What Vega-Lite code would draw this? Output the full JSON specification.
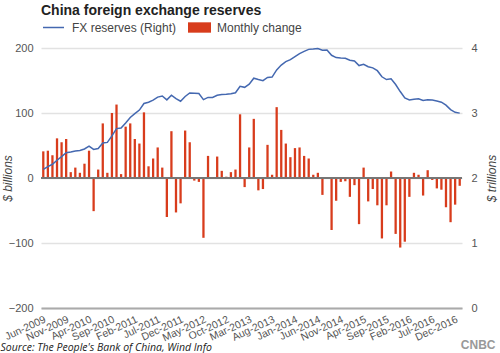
{
"$schema": "https://vega.github.io/schema/vega-lite/v6.json",
"width": 421, "height": 260,
"autosize": {"type": "none"},
"padding": {"left": 41, "top": 48, "right": 38, "bottom": 45},
"background": "white",
"title": {"text": "China foreign exchange reserves", "anchor": "start", "frame": "group", "dy": 6, "fontSize": 14, "font": "Liberation Sans", "fontWeight": "bold", "color": "#222"},
"config": {"view": {"stroke": null}, "font": "Liberation Sans"},
"data": {"values": [
{"month":"Jun-2009","change":41,"reserves":2.132},
{"month":"Jul-2009","change":42,"reserves":2.175},
{"month":"Aug-2009","change":35,"reserves":2.211},
{"month":"Sep-2009","change":61,"reserves":2.273},
{"month":"Oct-2009","change":55,"reserves":2.328},
{"month":"Nov-2009","change":60,"reserves":2.388},
{"month":"Dec-2009","change":9,"reserves":2.399},
{"month":"Jan-2010","change":16,"reserves":2.415},
{"month":"Feb-2010","change":8,"reserves":2.424},
{"month":"Mar-2010","change":22,"reserves":2.447},
{"month":"Apr-2010","change":42,"reserves":2.490},
{"month":"May-2010","change":-51,"reserves":2.440},
{"month":"Jun-2010","change":13,"reserves":2.454},
{"month":"Jul-2010","change":84,"reserves":2.538},
{"month":"Aug-2010","change":8,"reserves":2.548},
{"month":"Sep-2010","change":100,"reserves":2.648},
{"month":"Oct-2010","change":113,"reserves":2.760},
{"month":"Nov-2010","change":6,"reserves":2.768},
{"month":"Dec-2010","change":79,"reserves":2.847},
{"month":"Jan-2011","change":84,"reserves":2.932},
{"month":"Feb-2011","change":60,"reserves":2.991},
{"month":"Mar-2011","change":53,"reserves":3.045},
{"month":"Apr-2011","change":101,"reserves":3.146},
{"month":"May-2011","change":18,"reserves":3.166},
{"month":"Jun-2011","change":30,"reserves":3.198},
{"month":"Jul-2011","change":47,"reserves":3.245},
{"month":"Aug-2011","change":16,"reserves":3.262},
{"month":"Sep-2011","change":-60,"reserves":3.202},
{"month":"Oct-2011","change":72,"reserves":3.274},
{"month":"Nov-2011","change":-53,"reserves":3.221},
{"month":"Dec-2011","change":-39,"reserves":3.181},
{"month":"Jan-2012","change":73,"reserves":3.254},
{"month":"Feb-2012","change":55,"reserves":3.309},
{"month":"Mar-2012","change":-4,"reserves":3.305},
{"month":"Apr-2012","change":-6,"reserves":3.299},
{"month":"May-2012","change":-92,"reserves":3.206},
{"month":"Jun-2012","change":34,"reserves":3.240},
{"month":"Jul-2012","change":0,"reserves":3.240},
{"month":"Aug-2012","change":33,"reserves":3.273},
{"month":"Sep-2012","change":11,"reserves":3.285},
{"month":"Oct-2012","change":2,"reserves":3.287},
{"month":"Nov-2012","change":9,"reserves":3.297},
{"month":"Dec-2012","change":13,"reserves":3.312},
{"month":"Jan-2013","change":98,"reserves":3.410},
{"month":"Feb-2013","change":-14,"reserves":3.395},
{"month":"Mar-2013","change":47,"reserves":3.443},
{"month":"Apr-2013","change":91,"reserves":3.535},
{"month":"May-2013","change":-19,"reserves":3.515},
{"month":"Jun-2013","change":-17,"reserves":3.497},
{"month":"Jul-2013","change":51,"reserves":3.548},
{"month":"Aug-2013","change":5,"reserves":3.553},
{"month":"Sep-2013","change":109,"reserves":3.663},
{"month":"Oct-2013","change":74,"reserves":3.737},
{"month":"Nov-2013","change":53,"reserves":3.790},
{"month":"Dec-2013","change":32,"reserves":3.821},
{"month":"Jan-2014","change":46,"reserves":3.867},
{"month":"Feb-2014","change":47,"reserves":3.914},
{"month":"Mar-2014","change":34,"reserves":3.948},
{"month":"Apr-2014","change":30,"reserves":3.979},
{"month":"May-2014","change":5,"reserves":3.984},
{"month":"Jun-2014","change":8,"reserves":3.993},
{"month":"Jul-2014","change":-26,"reserves":3.966},
{"month":"Aug-2014","change":1,"reserves":3.969},
{"month":"Sep-2014","change":-80,"reserves":3.888},
{"month":"Oct-2014","change":-35,"reserves":3.853},
{"month":"Nov-2014","change":-6,"reserves":3.847},
{"month":"Dec-2014","change":-5,"reserves":3.843},
{"month":"Jan-2015","change":-29,"reserves":3.813},
{"month":"Feb-2015","change":-11,"reserves":3.801},
{"month":"Mar-2015","change":-71,"reserves":3.730},
{"month":"Apr-2015","change":16,"reserves":3.748},
{"month":"May-2015","change":-36,"reserves":3.711},
{"month":"Jun-2015","change":-17,"reserves":3.694},
{"month":"Jul-2015","change":-42,"reserves":3.651},
{"month":"Aug-2015","change":-93,"reserves":3.557},
{"month":"Sep-2015","change":-42,"reserves":3.514},
{"month":"Oct-2015","change":10,"reserves":3.525},
{"month":"Nov-2015","change":-86,"reserves":3.438},
{"month":"Dec-2015","change":-107,"reserves":3.330},
{"month":"Jan-2016","change":-98,"reserves":3.231},
{"month":"Feb-2016","change":-29,"reserves":3.202},
{"month":"Mar-2016","change":8,"reserves":3.213},
{"month":"Apr-2016","change":5,"reserves":3.220},
{"month":"May-2016","change":-27,"reserves":3.192},
{"month":"Jun-2016","change":12,"reserves":3.205},
{"month":"Jul-2016","change":-3,"reserves":3.201},
{"month":"Aug-2016","change":-16,"reserves":3.185},
{"month":"Sep-2016","change":-18,"reserves":3.166},
{"month":"Oct-2016","change":-45,"reserves":3.121},
{"month":"Nov-2016","change":-68,"reserves":3.052},
{"month":"Dec-2016","change":-41,"reserves":3.011},
{"month":"Jan-2017","change":-12,"reserves":2.998}
]},
"layer": [
{"mark": {"type": "bar"},
 "encoding": {
  "x": {"field": "month", "type": "ordinal", "sort": null,
        "scale": {"paddingInner": 0.5, "paddingOuter": 0.25},
        "axis": {"values": ["Jun-2009","Nov-2009","Apr-2010","Sep-2010","Feb-2011","Jul-2011","Dec-2011","May-2012","Oct-2012","Mar-2013","Aug-2013","Jan-2014","Jun-2014","Nov-2014","Apr-2015","Sep-2015","Feb-2016","Jul-2016","Dec-2016"],
                 "labelAngle": -25, "labelFontSize": 10.5, "labelColor": "#555", "ticks": false,
                 "domainColor": "#aaa", "domainWidth": 2, "labelPadding": 6,
                 "title": "Source: The People's Bank of China, Wind Info",
                 "titleAnchor": "start", "titleAlign": "left", "titleBaseline": "alphabetic",
                 "titleX": -41, "titleY": 42, "titleFont": "Open Sans", "titleFontStyle": "italic",
                 "titleFontWeight": "normal", "titleFontSize": 10.5, "titleColor": "#222"}},
  "y": {"field": "change", "type": "quantitative", "scale": {"domain": [-200, 200]},
        "axis": {"values": [-200, -100, 0, 100, 200], "grid": true, "gridColor": "#e2e2e2", "gridWidth": 1.5,
                 "domain": false, "ticks": false, "labelColor": "#555", "labelFontSize": 11, "labelPadding": 8,
                 "title": "$ billions", "titleFontStyle": "italic", "titleFontWeight": "normal", "titleFontSize": 12,
                 "titleColor": "#444", "titleX": -34, "titleY": 130, "titleAlign": "center", "titleBaseline": "middle"}},
  "fill": {"datum": "Monthly change", "scale": {"range": ["#d83c1c"]},
           "legend": {"orient": "none", "legendX": 147, "legendY": -32, "title": null,
                      "symbolType": "M-1,-0.45H1V0.45H-1Z", "symbolSize": 529, "symbolStrokeWidth": 0,
                      "labelFontSize": 12, "labelColor": "#444", "labelOffset": 6, "padding": 0}}
 }},
{"mark": {"type": "rule", "color": "#777", "strokeWidth": 1},
 "encoding": {"y": {"datum": 0, "type": "quantitative", "scale": {"domain": [-200, 200]}, "axis": null}}},
{"mark": {"type": "line", "strokeWidth": 1.5},
 "encoding": {
  "x": {"field": "month", "type": "ordinal", "sort": null,
        "axis": {"orient": "bottom", "labels": false, "ticks": false, "domain": false, "grid": false,
                 "title": "CNBC", "titleAnchor": "end", "titleAlign": "right", "titleBaseline": "alphabetic",
                 "titleX": 454, "titleY": 40, "titleFontSize": 12, "titleFontWeight": "bold", "titleColor": "#999"}},
  "y": {"field": "reserves", "type": "quantitative", "scale": {"domain": [0, 4]},
        "axis": {"orient": "right", "values": [0, 1, 2, 3, 4], "grid": false, "domain": false, "ticks": false,
                 "labelColor": "#555", "labelFontSize": 11, "labelPadding": 9,
                 "title": "$ trillions", "titleAngle": 270, "titleFontStyle": "italic", "titleFontWeight": "normal",
                 "titleFontSize": 12, "titleColor": "#444", "titleX": 29, "titleY": 130, "titleAlign": "center", "titleBaseline": "middle"}},
  "stroke": {"datum": "FX reserves (Right)", "scale": {"range": ["#4468b0"]},
             "legend": {"orient": "none", "legendX": 1, "legendY": -32, "title": null,
                        "symbolType": "stroke", "symbolSize": 441, "symbolStrokeWidth": 1.5,
                        "labelFontSize": 12, "labelColor": "#444", "labelOffset": 7, "padding": 0}}
 }}
],
"resolve": {"scale": {"y": "independent"}, "axis": {"x": "independent"}}
}
